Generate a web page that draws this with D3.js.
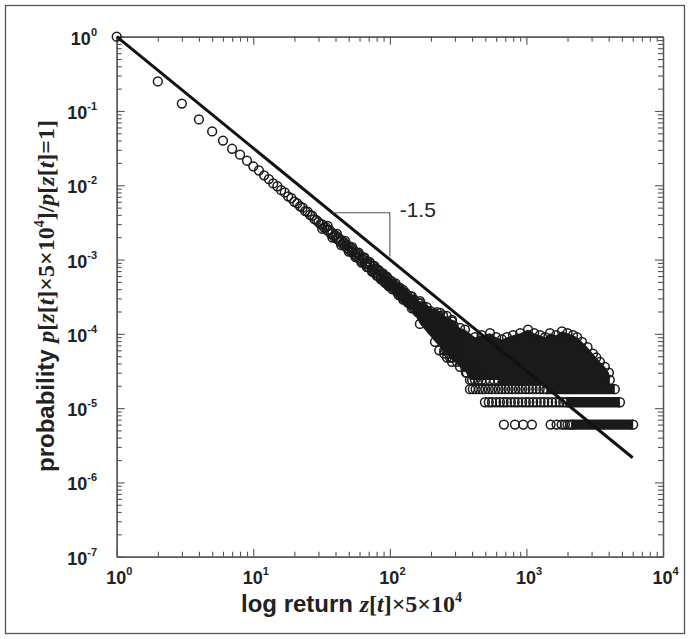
<!DOCTYPE html>
<html>
<head>
<meta charset="utf-8">
<script src="https://cdn.jsdelivr.net/npm/d3@7"></script>
<style>
  body { margin: 0; background: #fff; }
  svg { display: block; }
</style>
</head>
<body>
<div id="chart"></div>
<script>
// DATA

// first returns, one circle per value, x = 1..30
const headX = [1,2,3,4,5,6,7,8,9,10,11,12,13,14,15,16,17,18,19,20,21,22,23,24,25,26,27,28,29,30]
const headP = [1,0.25,0.126,0.077,0.053,0.040,0.031,0.0258,0.0214,0.0180,0.0158,0.0136,0.0121,0.0106,0.0097,
  0.0086,0.0080,0.0071,0.0067,0.0060,0.0057,0.0052,0.0050,0.0045,0.0044,0.0040,0.0039,0.0035,0.0034,0.0032]

// the diagonal band, thickening towards 300
const bandX = [31,32,33,34,35,36,37,38,39,40,41,42,43,44,45,46,47,48,49,50,51,52,53,54,55,56,57,58,59,60,
  62,63,64,66,67,68,70,71,72,74,75,76,78,79,80,82,83,84,86,87,88,90,91,92,94,95,96,98,99,100,
  102,104,106,108,110,112,114,116,118,120,122,124,126,128,130,132,134,136,138,140,142,144,146,148,150,
  153,156,159,162,165,168,171,174,177,180,183,186,189,192,195,198,201,
  205,209,213,217,221,225,229,233,237,241,245,249,253,257,261,265,269,273,277,281,285,289,293,297,
  160,175,190,210,230,250,270,290,
  101,105,109,113,117,121,125,129,133,137,141,145,149,155,161,167,173,179,185,191,197,
  203,207,215,219,227,235,243,247,255,259,263,267,275,279,283,287,291,295,299]
const bandP = [0.00300,0.00298,0.00270,0.00272,0.00246,0.00250,0.00222,0.00228,0.00206,0.00212,
  0.00190,0.00198,0.00176,0.00184,0.00163,0.00171,0.00152,0.00160,0.00141,0.00152,
  0.00133,0.00142,0.00125,0.00134,0.00117,0.00126,0.00111,0.00121,0.00104,0.00113,
  0.00096,0.00101,0.00105,0.00086,0.00089,0.00095,0.00079,0.00084,0.00088,0.00071,0.00074,0.00080,
  0.00066,0.00072,0.00075,0.00060,0.00063,0.00069,0.00056,0.00061,0.00064,0.00052,0.00057,0.00060,
  0.00048,0.00050,0.00056,0.00045,0.00049,0.00052,
  5.15e-4,4.0e-4,4.52e-4,4.04e-4,4.76e-4,3.71e-4,4.14e-4,3.32e-4,4.2e-4,3.52e-4,3.52e-4,3.12e-4,3.64e-4,
  3.13e-4,3.58e-4,2.79e-4,3.34e-4,2.62e-4,2.98e-4,2.68e-4,3.18e-4,2.49e-4,2.8e-4,2.26e-4,2.88e-4,
  2.35e-4,2.39e-4,1.97e-4,2.58e-4,2.04e-4,2.58e-4,1.72e-4,2.36e-4,1.59e-4,2.0e-4,1.69e-4,2.28e-4,
  1.54e-4,1.89e-4,1.33e-4,2.02e-4,1.53e-4,
  1.55e-4,1.12e-4,1.87e-4,1.25e-4,1.96e-4,9.6e-5,1.74e-4,8.7e-5,1.34e-4,1.02e-4,1.77e-4,8.2e-5,
  1.39e-4,6.2e-5,1.74e-4,9.3e-5,1.01e-4,6.7e-5,1.34e-4,8.0e-5,1.47e-4,5.8e-5,1.30e-4,5.25e-5,
  2.2e-4,1.9e-4,1.75e-4,1.5e-4,1.25e-4,1.1e-4,1.0e-4,9.0e-5,
  4.6e-4,4.5e-4,4.1e-4,3.9e-4,3.8e-4,3.4e-4,3.4e-4,3.3e-4,3.0e-4,2.9e-4,2.8e-4,2.6e-4,2.55e-4,
  2.3e-4,2.2e-4,2.1e-4,1.95e-4,1.85e-4,1.75e-4,1.7e-4,1.6e-4,
  1.7e-4,1.35e-4,1.45e-4,1.15e-4,1.45e-4,1.1e-4,1.3e-4,9.6e-5,1.2e-4,8.4e-5,1.3e-4,7.2e-5,
  1.15e-4,6.6e-5,1.2e-4,7.8e-5,1.05e-4,6.6e-5,1.1e-4]

// scatter on either side of the band
const spreadX = [32,35,38,41,44,47,50,53,56,59,62,65,68,71,74,77,80,83,86,89,92,95,98,
  103,107,111,115,119,123,127,131,135,139,143,147,152,158,164,170,176,182,188,194,200,
  211,223,231,239,251,271,280,292,298]
const spreadP = [0.00260,0.00284,0.00198,0.00221,0.00157,0.00178,0.00128,0.00147,0.00108,0.00124,
  0.00091,0.00107,0.00079,0.00093,0.00069,0.00082,0.00061,0.00072,0.00054,0.00065,0.00049,0.00059,0.00044,
  4.3e-4,4.7e-4,3.9e-4,4.2e-4,3.3e-4,3.6e-4,3.0e-4,3.2e-4,2.7e-4,3.0e-4,2.5e-4,2.7e-4,2.2e-4,2.4e-4,
  1.9e-4,2.2e-4,1.7e-4,2.1e-4,1.6e-4,1.8e-4,1.4e-4,
  1.65e-4,1.2e-4,1.5e-4,1.05e-4,1.25e-4,1.2e-4,9.5e-5,1.15e-4,8.0e-5]

// left ends of the count rows n = 10 .. 5 (p = n / total)
const stepX = [230,250, 250,270,290, 262,285,310, 285,310,337, 326,355,386, 366,398,434]
const stepP = [6.0e-5,6.0e-5, 5.4e-5,5.4e-5,5.4e-5, 4.8e-5,4.8e-5,4.8e-5, 4.2e-5,4.2e-5,4.2e-5,
  3.6e-5,3.6e-5,3.6e-5, 3.0e-5,3.0e-5,3.0e-5]

// upper edge of the solid black part (band core, then plateau)
const rimX = [100,125,145,166,234,285,326,355,420,470,541,600,662,720,798,900,1028,1140,1256,1370,1486,
  1650,1820,2000,2193,2350,2548,2800,3069,3250,3451,3754,4018]
const rimP = [5.2e-4,3.9e-4,3.2e-4,2.75e-4,1.91e-4,1.54e-4,1.2e-4,1.14e-4,9.0e-5,9.6e-5,1.02e-4,9.0e-5,
  8.4e-5,9.0e-5,9.6e-5,1.02e-4,1.14e-4,1.02e-4,9.6e-5,9.0e-5,1.02e-4,9.6e-5,1.08e-4,1.02e-4,9.6e-5,
  9.0e-5,7.8e-5,6.6e-5,5.4e-5,4.8e-5,4.2e-5,3.6e-5,3.0e-5]
// lower edge of the solid part, right to left
const baseX = [4080,386,361,276,214,166,145,125,100]
const baseP = [2.4e-5,2.4e-5,3.0e-5,4.8e-5,7.8e-5,1.36e-4,2.2e-4,2.9e-4,4.4e-4]

// the lowest count rows: one, two, three and four events
const rowP = [6.0e-6, 1.2e-5, 1.8e-5, 2.4e-5]
const row1X = [684,824,948,1097,1503,1663,1811,1914,2000,2085]
const row2X = [497,530,560,600,640,680,720,770,820,870,930,990,1050,1120,1190,1270,1350,1440,1540,1640,1750,1860]
const row3X = [386,405,425,450,475,500,530,560,590,625,660,700,740,785,830,880,930,985,1045,1110,1180,1250,1330]
const row4X = [400,420,445,470,500,540,580]
// stretches where a row is solid
const spanFrom = [2150, 1960, 1400, 620]
const spanTo = [6050, 4840, 4440, 4080]

// power law guide, slope -1.5
const fitX = [1, 6000]
const fitP = [1, 2.15e-6]
const slopeX = [38, 100, 100]
const slopeP = [4.27e-3, 4.27e-3, 1.1e-3]

const xMajor = [1, 10, 100, 1000, 10000]
const xExp = ["0", "1", "2", "3", "4"]
const yMajor = [1, 1e-1, 1e-2, 1e-3, 1e-4, 1e-5, 1e-6, 1e-7]
const yExp = ["0", "-1", "-2", "-3", "-4", "-5", "-6", "-7"]

// SETUP
const width = 690, height = 639
const ink = "#1a1a1a"
const axisCol = "#555"
const R = 4.4
const SW = 1.5

const svg = d3.select("#chart").append("svg")
    .attr("width", width)
    .attr("height", height)

svg.append("rect")
    .attr("x", 5.5).attr("y", 5.5)
    .attr("width", 679).attr("height", 628)
    .attr("fill", "none")
    .attr("stroke", axisCol)
    .attr("stroke-width", 1.3)

// SCALES
const x = d3.scaleLog().domain([1, 1e4]).range([116.7, 663])
const y = d3.scaleLog().domain([1e-7, 1]).range([556.7, 36.7])

const xMinor = x.ticks().filter(d => !xMajor.includes(d))
const yMinor = y.ticks().filter(d => !yMajor.some(m => Math.abs(m - d) / m < 1e-9))

// AXES (ticks inside, on all four sides)
function drawAxis(axis, tx, ty) {
  const g = svg.append("g").attr("transform", `translate(${tx},${ty})`).call(axis)
  g.select(".domain").attr("stroke", axisCol).attr("stroke-width", 1.3)
  g.selectAll(".tick line").attr("stroke", axisCol).attr("stroke-width", 1.1)
  g.selectAll(".tick text").remove()
}
const sides = [
  [d3.axisBottom(x), 0, 556.7],
  [d3.axisTop(x), 0, 36.7],
  [d3.axisLeft(y), 116.7, 0],
  [d3.axisRight(y), 663, 0]
]
sides.forEach(([ax, tx, ty], k) => {
  const maj = k < 2 ? xMajor : yMajor
  const min = k < 2 ? xMinor : yMinor
  drawAxis(ax.tickValues(min).tickSizeInner(-5).tickSizeOuter(0).tickFormat(""), tx, ty)
  drawAxis(ax.tickValues(maj).tickSizeInner(-8).tickSizeOuter(0).tickFormat(""), tx, ty)
})

// TICK LABELS
const labelFont = "'Liberation Sans', Arial, Helvetica, sans-serif"
const xl = svg.append("g")
    .attr("font-family", labelFont).attr("font-weight", "bold").attr("fill", "#222")
xMajor.forEach((v, i) => {
  const t = xl.append("text").attr("x", x(v) - 10.5).attr("y", 583.5).attr("font-size", 18)
  t.append("tspan").text("10")
  t.append("tspan").attr("dy", -9).attr("font-size", 11).text(xExp[i])
})
const yl = svg.append("g")
    .attr("font-family", labelFont).attr("font-weight", "bold").attr("fill", "#222")
yMajor.forEach((v, i) => {
  const t = yl.append("text").attr("x", 97).attr("y", y(v) + 8)
      .attr("text-anchor", "end").attr("font-size", 18)
  t.append("tspan").text("10")
  t.append("tspan").attr("dy", -9).attr("font-size", 11).text(yExp[i])
})

// AXIS TITLES
const serif = "'Liberation Serif', 'Times New Roman', serif"
function mathPart(t, parts) {
  parts.forEach(p => {
    const s = t.append("tspan").attr("font-family", serif).text(p.s)
    if (p.i) s.attr("font-style", "italic")
    if (p.up) s.attr("dy", -10).attr("font-size", 14)
    if (p.down) s.attr("dy", 10)
  })
}
const xt = svg.append("text")
    .attr("x", 241).attr("y", 611.5)
    .attr("font-family", labelFont).attr("font-weight", "bold")
    .attr("font-size", 24).attr("fill", "#222")
xt.append("tspan").text("log return ")
mathPart(xt, [{s: "z", i: 1}, {s: "["}, {s: "t", i: 1}, {s: "]×5×10"}, {s: "4", up: 1}])

const yt = svg.append("text")
    .attr("transform", "translate(54,296) rotate(-90)")
    .attr("text-anchor", "middle")
    .attr("font-family", labelFont).attr("font-weight", "bold")
    .attr("font-size", 24).attr("fill", "#222")
yt.append("tspan").text("probability ")
mathPart(yt, [{s: "p", i: 1}, {s: "["}, {s: "z", i: 1}, {s: "["}, {s: "t", i: 1}, {s: "]×5×10"},
  {s: "4", up: 1}, {s: "]/", down: 1}, {s: "p", i: 1}, {s: "["}, {s: "z", i: 1}, {s: "["},
  {s: "t", i: 1}, {s: "]=1]"}])

// DATA MARKS
const plot = svg.append("g")

// solid part of the cloud
const massPts = d3.zip(rimX, rimP).concat(d3.zip(baseX, baseP))
plot.append("path")
    .attr("d", d3.line().x(d => x(d[0])).y(d => y(d[1]))(massPts) + "Z")
    .attr("fill", ink)

// solid stretches of the lowest rows
plot.selectAll("line.span")
    .data(d3.range(rowP.length))
    .join("line")
    .attr("x1", i => x(spanFrom[i]))
    .attr("x2", i => x(spanTo[i]))
    .attr("y1", i => y(rowP[i]))
    .attr("y2", i => y(rowP[i]))
    .attr("stroke", ink)
    .attr("stroke-width", 2 * R + SW)

const rings = plot.append("g")
    .attr("fill", "none")
    .attr("stroke", ink)
    .attr("stroke-width", SW)

function ring(xs, ps) {
  rings.append("g").selectAll("circle")
      .data(d3.zip(xs, ps))
      .join("circle")
      .attr("cx", d => x(d[0]))
      .attr("cy", d => y(d[1]))
      .attr("r", R)
}
ring(headX, headP)
ring(bandX, bandP)
ring(spreadX, spreadP)
ring(baseX.slice(1), baseP.slice(1))
ring(stepX, stepP)
ring(rimX, rimP)
const rowsX = [row1X, row2X, row3X, row4X]
rowsX.forEach((xs, i) => {
  ring(xs, xs.map(() => rowP[i]))
  ring([spanFrom[i], spanTo[i]], [rowP[i], rowP[i]])
})

// power law guide
plot.append("path")
    .attr("d", d3.line().x(d => x(d[0])).y(d => y(d[1]))(d3.zip(fitX, fitP)))
    .attr("stroke", "#111")
    .attr("stroke-width", 3)
    .attr("fill", "none")

plot.append("path")
    .attr("d", d3.line().x(d => x(d[0])).y(d => y(d[1]))(d3.zip(slopeX, slopeP)))
    .attr("stroke", axisCol)
    .attr("stroke-width", 1.1)
    .attr("fill", "none")

plot.append("text")
    .attr("x", x(118)).attr("y", y(3.7e-3))
    .attr("font-family", labelFont)
    .attr("font-size", 21)
    .attr("fill", "#222")
    .text("-1.5")
</script>
</body>
</html>
